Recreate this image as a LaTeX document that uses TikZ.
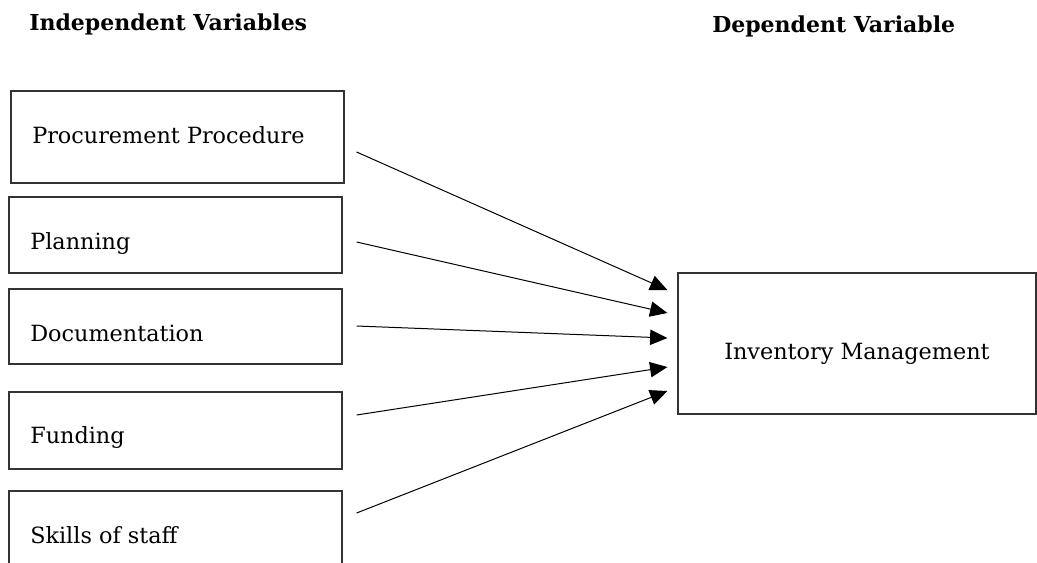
\documentclass[tikz,border=0pt]{standalone}
\usepackage{fontspec}
\setmainfont{DejaVu Serif}
\usetikzlibrary{arrows.meta,calc,positioning}

\tikzset{
  varbox/.style={draw=black!80, line width=0.9pt, rectangle, inner sep=0pt},
  vartext/.style={anchor=base west, inner sep=0pt, font=\fontsize{16.75}{20}\selectfont},
  headtext/.style={anchor=base west, inner sep=0pt, font=\fontsize{16.5}{20}\selectfont\bfseries},
  link/.style={line width=0.75pt, -{Triangle[length=13pt,width=11.5pt]}}
}

\begin{document}
\begin{tikzpicture}[x=0.75pt,y=0.75pt,yscale=-1]
\clip (0,0) rectangle (1037,562);

% Headings
\node[headtext] (indep) at (29,30) {Independent Variables};
\node[headtext] (dep) at (712,32) {Dependent Variable};

% Independent variable boxes
\node[varbox, minimum width=249.75pt, minimum height=69pt] (pp) at (177.5,137) {};
\node[varbox, minimum width=249.75pt, minimum height=57pt] (pl) at (175.5,235) {};
\node[varbox, minimum width=249.75pt, minimum height=56.25pt] (dc) at (175.5,326.5) {};
\node[varbox, minimum width=249.75pt, minimum height=57.75pt] (fd) at (175.5,430.5) {};
\node[varbox, minimum width=249.75pt, minimum height=66.75pt] (sk) at (175.5,535.5) {};

% Box texts
\node[vartext] (pptext) at (32,143) {Procurement Procedure};
\node[vartext] (pltext) at (30,249) {Planning};
\node[vartext] (dctext) at (30,341) {Documentation};
\node[vartext] (fdtext) at (30,443) {Funding};
\node[vartext] (sktext) at (30,543) {Skills of staff};

% Dependent variable box
\node[varbox, minimum width=268.5pt, minimum height=105.75pt] (im) at (857,343.5) {};
\node[vartext] (imtext) at (724,359) {Inventory Management};

% Arrows
\draw[link] ($(pp.east)+(12,15)$) -- ($(im.west)+(-10,-53.5)$);
\draw[link] ($(pl.east)+(14,7)$) -- ($(im.west)+(-10,-30.5)$);
\draw[link] ($(dc.east)+(14,-0.5)$) -- ($(im.west)+(-10,-5.5)$);
\draw[link] ($(fd.east)+(14,-15.5)$) -- ($(im.west)+(-10,23.5)$);
\draw[link] ($(sk.east)+(14,-22.5)$) -- ($(im.west)+(-10,47.5)$);

\end{tikzpicture}
\end{document}
